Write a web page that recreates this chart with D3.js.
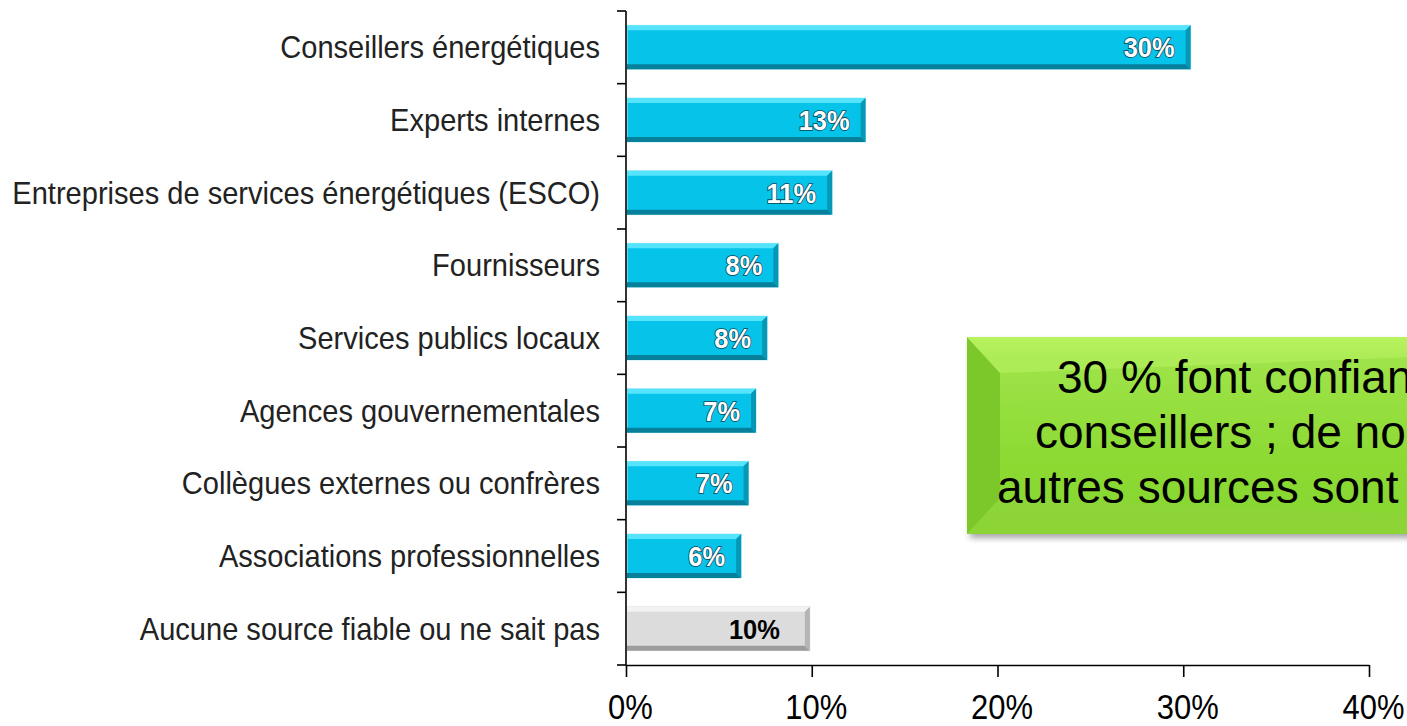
<!DOCTYPE html>
<html>
<head>
<meta charset="utf-8">
<script src="https://cdn.jsdelivr.net/npm/d3@7"></script>
<style>
  html, body { margin: 0; padding: 0; background: #fff; overflow: hidden; }
  svg { display: block; }
</style>
</head>
<body>
<div id="chart"></div>
<script>
// data
const categories = [
  'Conseillers énergétiques',
  'Experts internes',
  'Entreprises de services énergétiques (ESCO)',
  'Fournisseurs',
  'Services publics locaux',
  'Agences gouvernementales',
  'Collègues externes ou confrères',
  'Associations professionnelles',
  'Aucune source fiable ou ne sait pas'
];
const values = [30.4, 12.9, 11.1, 8.2, 7.6, 7.0, 6.6, 6.2, 9.9];
const valueLabels = ['30%', '13%', '11%', '8%', '8%', '7%', '7%', '6%', '10%'];
const xTicks = [0, 10, 20, 30, 40];
const xTickLabels = ['0%', '10%', '20%', '30%', '40%'];
const calloutLines = [
  '30 % font confiance aux',
  'conseillers ; de nombreuses',
  'autres sources sont utilisées'
];

const width = 1407, height = 726;
const plotLeft = 626, plotRight = 1369, plotTop = 11, plotBottom = 665;

const svg = d3.select('#chart').append('svg')
  .attr('width', width)
  .attr('height', height);

const defs = svg.append('defs');
const shadow = defs.append('filter').attr('id', 'shadow')
  .attr('x', '-10%').attr('y', '-10%').attr('width', '130%').attr('height', '140%');
shadow.append('feDropShadow')
  .attr('dx', 3).attr('dy', 4).attr('stdDeviation', 3)
  .attr('flood-color', '#000').attr('flood-opacity', 0.35);

const greenGrad = defs.append('linearGradient').attr('id', 'greenGrad')
  .attr('x1', 0).attr('y1', 0).attr('x2', 0).attr('y2', 1);
greenGrad.append('stop').attr('offset', '0%').attr('stop-color', '#c2f865');
greenGrad.append('stop').attr('offset', '10%').attr('stop-color', '#9fe44a');
greenGrad.append('stop').attr('offset', '60%').attr('stop-color', '#8dda34');
greenGrad.append('stop').attr('offset', '100%').attr('stop-color', '#86d52e');

const x = d3.scaleLinear().domain([0, 40]).range([plotLeft, plotRight]);
const y = d3.scaleBand().domain(categories).range([plotTop, plotBottom])
  .paddingInner(0.395).paddingOuter(0.1975);

const palettes = {
  cyan: { main: '#06c3ea', top: '#55e4fb', bottom: '#07809b', right: '#0597b6', edge: '#b9ecf7' },
  grey: { main: '#dcdcdc', top: '#f2f2f2', bottom: '#9c9c9c', right: '#b5b5b5', edge: '#e8e8e8' }
};

const rows = categories.map((c, i) => ({
  cat: c, value: values[i], label: valueLabels[i],
  pal: i === categories.length - 1 ? palettes.grey : palettes.cyan,
  grey: i === categories.length - 1
}));

// bars with a bevel look
const b = 5;
const bars = svg.append('g').selectAll('g.bar').data(rows).join('g').attr('class', 'bar');
bars.append('rect')
  .attr('x', x(0) + 1)
  .attr('y', d => y(d.cat))
  .attr('width', d => x(d.value) - x(0) - 1)
  .attr('height', y.bandwidth())
  .attr('fill', d => d.pal.main)
  .attr('stroke', d => d.pal.edge)
  .attr('stroke-width', 1);
bars.append('polygon')
  .attr('fill', d => d.pal.top)
  .attr('points', d => {
    const x0 = x(0) + 1, x1 = x(d.value), y0 = y(d.cat);
    return [[x0, y0], [x1, y0], [x1 - b, y0 + b], [x0, y0 + b]].join(' ');
  });
bars.append('polygon')
  .attr('fill', d => d.pal.bottom)
  .attr('points', d => {
    const x0 = x(0) + 1, x1 = x(d.value), y1 = y(d.cat) + y.bandwidth();
    return [[x0, y1], [x1, y1], [x1 - b, y1 - b], [x0, y1 - b]].join(' ');
  });
bars.append('polygon')
  .attr('fill', d => d.pal.right)
  .attr('points', d => {
    const x1 = x(d.value), y0 = y(d.cat), y1 = y0 + y.bandwidth();
    return [[x1, y0], [x1, y1], [x1 - b, y1 - b], [x1 - b, y0 + b]].join(' ');
  });

// value labels
const vLabels = bars.append('text')
  .attr('text-anchor', 'end')
  .style('font-family', '"Liberation Sans Narrow", "Liberation Sans", Arial, sans-serif')
  .style('font-weight', 'bold')
  .style('font-size', '28px')
  .attr('fill', d => d.grey ? '#000' : '#fff')
  .attr('stroke', d => d.grey ? 'none' : '#0b4656')
  .attr('stroke-width', 1.6)
  .attr('paint-order', 'stroke')
  .text(d => d.label);
const vw = vLabels.filter((d, i) => i === 0).node().getComputedTextLength();
const vk = 51 / vw;
vLabels.attr('transform', d =>
  `translate(${x(d.value) - (d.grey ? 30 : 16)}, ${y(d.cat) + y.bandwidth() / 2 + 10}) scale(${vk},1)`);

// category labels
const cLabels = svg.append('g').selectAll('text').data(categories).join('text')
  .attr('text-anchor', 'end')
  .style('font-family', '"Liberation Sans Narrow", "Liberation Sans", Arial, sans-serif')
  .style('font-size', '31px')
  .attr('fill', '#222')
  .text(d => d);
const cw = d3.max(cLabels.nodes(), n => n.getComputedTextLength());
const ck = 588 / cw;
cLabels.attr('transform', d =>
  `translate(600, ${y(d) + y.bandwidth() / 2 + 11}) scale(${ck},1)`);

// axes
const axisColor = '#000';
const yAxis = svg.append('g');
yAxis.append('line')
  .attr('x1', plotLeft).attr('x2', plotLeft).attr('y1', plotTop).attr('y2', plotBottom)
  .attr('stroke', axisColor).attr('stroke-width', 1.6);
yAxis.selectAll('line.tick').data(d3.range(categories.length + 1)).join('line')
  .attr('class', 'tick')
  .attr('x1', plotLeft - 9).attr('x2', plotLeft)
  .attr('y1', i => plotTop + i * y.step()).attr('y2', i => plotTop + i * y.step())
  .attr('stroke', axisColor).attr('stroke-width', 1.6);

const xAxis = svg.append('g').attr('transform', `translate(0, ${plotBottom})`)
  .call(d3.axisBottom(x).tickValues(xTicks).tickSize(12).tickSizeOuter(0).tickFormat((d, i) => xTickLabels[i]));
xAxis.select('.domain').attr('stroke', axisColor).attr('stroke-width', 1.6);
xAxis.selectAll('.tick line').attr('stroke', axisColor).attr('stroke-width', 1.6);
const xt = xAxis.selectAll('.tick text')
  .attr('fill', '#000')
  .style('font-family', '"Liberation Sans", Arial, sans-serif')
  .style('font-size', '35px')
  .attr('dy', null);
const xw = xt.filter((d, i) => i === 1).node().getComputedTextLength();
const xk = 62 / xw;
xt.attr('y', null).attr('transform', `translate(4, 54) scale(${xk},1)`);

// green callout
const box = { x0: 967, y0: 337, x1: 1467, y1: 534, bl: 33, bt: 18 };
const callout = svg.append('g');
callout.append('rect')
  .attr('x', box.x0).attr('y', box.y0)
  .attr('width', box.x1 - box.x0).attr('height', box.y1 - box.y0)
  .attr('fill', 'url(#greenGrad)')
  .attr('filter', 'url(#shadow)');
callout.append('polygon')
  .attr('fill', '#7cc72a')
  .attr('points', [[box.x0, box.y0], [box.x0 + box.bl, box.y0 + box.bt * 2], [box.x0 + box.bl, box.y1 - box.bt * 2], [box.x0, box.y1]].join(' '));
callout.append('polygon')
  .attr('fill', '#b4ef5c').attr('opacity', 0.7)
  .attr('points', [[box.x0, box.y0], [box.x1, box.y0], [box.x1, box.y0 + box.bt], [box.x0 + box.bl, box.y0 + box.bt * 2]].join(' '));
callout.append('polygon')
  .attr('fill', '#8fd43a').attr('opacity', 0.8)
  .attr('points', [[box.x0, box.y1], [box.x1, box.y1], [box.x1, box.y1 - box.bt], [box.x0 + box.bl, box.y1 - box.bt * 2]].join(' '));

const lineStarts = [1057, 1035, 997];
callout.selectAll('text').data(calloutLines).join('text')
  .attr('x', (d, i) => lineStarts[i])
  .attr('y', (d, i) => 393 + i * 55)
  .style('font-family', '"Liberation Sans", Arial, sans-serif')
  .style('font-size', '46px')
  .attr('fill', '#000')
  .text(d => d);
</script>
</body>
</html>
